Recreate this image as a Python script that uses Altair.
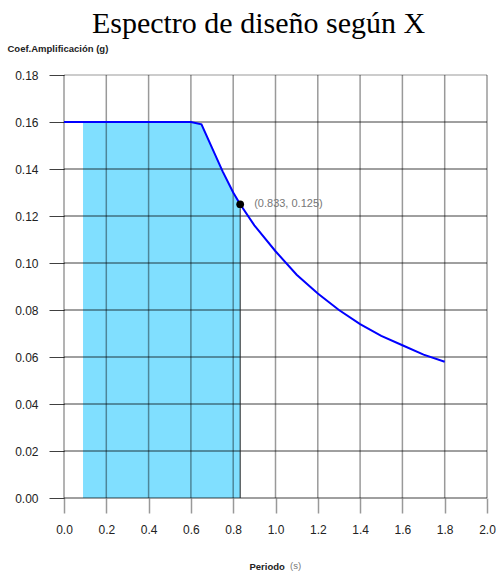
import altair as alt
import pandas as pd

# Design spectrum: period (s) vs amplification coefficient (g)
periodo = [0.0, 0.09, 0.6, 0.65, 0.7, 0.75, 0.8, 0.833, 0.9, 1.0, 1.1, 1.2,
           1.3, 1.4, 1.5, 1.6, 1.7, 1.8]
coef = [0.160, 0.160, 0.160, 0.159, 0.149, 0.139, 0.130, 0.125, 0.116, 0.105,
        0.095, 0.087, 0.080, 0.074, 0.069, 0.065, 0.061, 0.058]

x_ticks = [0.0, 0.2, 0.4, 0.6, 0.8, 1.0, 1.2, 1.4, 1.6, 1.8, 2.0]
y_ticks = [0.00, 0.02, 0.04, 0.06, 0.08, 0.10, 0.12, 0.14, 0.16, 0.18]

# shaded band and highlighted point
t_inicio = 0.09
punto_T = 0.833
punto_Sa = 0.125

X_MIN, X_MAX = 0.0, 2.0
Y_MIN, Y_MAX = 0.0, 0.18

W = 423
H = 423

df = pd.DataFrame({"T": periodo, "Sa": coef})
df_x = pd.DataFrame({"v": x_ticks, "a": Y_MIN, "b": Y_MAX})
df_y = pd.DataFrame({"v": y_ticks, "a": X_MIN, "b": X_MAX})
df_pt = pd.DataFrame({"T": [punto_T], "Sa": [punto_Sa], "base": [Y_MIN],
                      "etiqueta": [f"({punto_T:.3f}, {punto_Sa:.3f})"]})

FONT = "Liberation Sans"
xs = alt.Scale(domain=[X_MIN, X_MAX], nice=False, zero=False)
ys = alt.Scale(domain=[Y_MIN, Y_MAX], nice=False, zero=False)

x_axis = alt.Axis(
    values=x_ticks, format=".1f", grid=False, domain=False,
    tickSize=15, tickColor="black", tickOpacity=0.4, tickWidth=1.5,
    labelPadding=11, labelFont=FONT, labelFontSize=12, labelColor="#222",
    labelFlush=False, labelAlign="center",
    title="Periodo", titleFont=FONT, titleFontSize=9.5, titleFontWeight="bold",
    titleColor="#222", titleX=185, titleY=71, titleAlign="left",
    titleBaseline="alphabetic", titleAnchor="start",
)
y_axis = alt.Axis(
    values=y_ticks, format=".2f", grid=False, domain=False,
    tickSize=15, tickColor="black", tickWidth=1, tickOpacity=0.75,
    labelPadding=11, labelFont=FONT, labelFontSize=12, labelColor="#222",
    title="Coef.Amplificación (g)", titleFont=FONT, titleFontSize=9.5,
    titleFontWeight="bold", titleColor="#222", titleAngle=0,
    titleAlign="left", titleBaseline="alphabetic", titleX=-57, titleY=-24,
    titleAnchor="start",
)


def ex(field):
    return alt.X(field, scale=xs, axis=x_axis)


def ey(field):
    return alt.Y(field, scale=ys, axis=y_axis)


area = alt.Chart(df).transform_filter(
    f"datum.T >= {t_inicio} && datum.T <= {punto_T}"
).mark_area(color="#80DFFF", opacity=1).encode(
    x=ex("T:Q"),
    y=ey("Sa:Q"),
)

grid_v = alt.Chart(df_x).mark_rule(color="black", opacity=0.4, strokeWidth=1.5).encode(
    x=ex("v:Q"),
    y=ey("a:Q"),
    y2="b:Q",
)

grid_h = alt.Chart(df_y).mark_rule(color="black", strokeWidth=1).encode(
    y=ey("v:Q"),
    x=ex("a:Q"),
    x2="b:Q",
    opacity=alt.condition("datum.v >= 0.179", alt.value(0.4), alt.value(0.75)),
)

borde = alt.Chart(df_pt).mark_rule(color="#222", strokeWidth=1).encode(
    x=ex("T:Q"),
    y=ey("base:Q"),
    y2="Sa:Q",
)

linea = alt.Chart(df).mark_line(color="#0000FF", strokeWidth=2).encode(
    x=ex("T:Q"),
    y=ey("Sa:Q"),
)

punto = alt.Chart(df_pt).mark_circle(color="black", size=60, opacity=1).encode(
    x=ex("T:Q"),
    y=ey("Sa:Q"),
)

texto = alt.Chart(df_pt).mark_text(
    align="left", baseline="middle", dx=14, font=FONT, fontSize=11, color="#777"
).encode(
    x=ex("T:Q"),
    y=ey("Sa:Q"),
    text="etiqueta:N",
)

unidad = alt.Chart(pd.DataFrame({"t": ["(s)"]})).mark_text(
    align="left", baseline="alphabetic", font=FONT, fontSize=9.5, color="#777"
).encode(
    x=alt.value(226),
    y=alt.value(494),
    text="t:N",
)

chart = alt.layer(
    area, grid_v, grid_h, borde, linea, punto, texto, unidad
).properties(
    width=W,
    height=H,
    title=alt.TitleParams(
        "Espectro de diseño según X", font="Liberation Serif", fontSize=30,
        fontWeight="normal", color="black", anchor="middle", dx=-17,
        offset=4,
    ),
    autosize=alt.AutoSizeParams(type="none"),
    padding={"left": 64, "top": 75, "right": 11, "bottom": 76},
    background="white",
).configure_view(strokeWidth=0)

chart.save("out.html", embed_options={"renderer": "svg", "actions": False})
